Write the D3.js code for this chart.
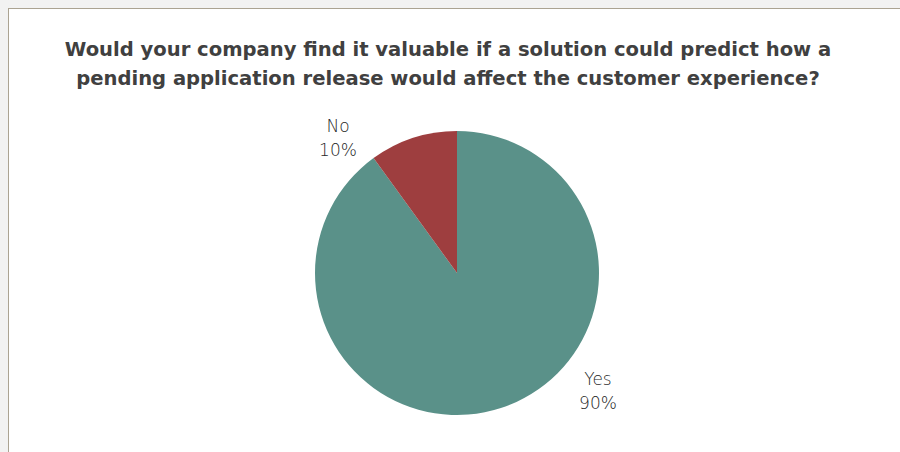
<!DOCTYPE html>
<html>
<head>
<meta charset="utf-8">
<script src="https://cdn.jsdelivr.net/npm/d3@7"></script>
<style>
  body { margin: 0; background: #f2f2f2; }
  svg { display: block; }
</style>
</head>
<body>
<script>
const categories = ["Yes", "No"];
const values = [90, 10];
const valueLabels = ["90%", "10%"];
const colors = ["#5a9189", "#9e3e3f"];
const titleLines = [
  "Would your company find it valuable if a solution could predict how a",
  "pending application release would affect the customer experience?"
];

const width = 900, height = 452;
const cx = 457, cy = 273, radius = 142;
const titleWidth = 767;

const svg = d3.select("body").append("svg")
  .attr("width", width)
  .attr("height", height);

// chart area frame
svg.append("rect")
  .attr("x", 8.5).attr("y", 8.5)
  .attr("width", width).attr("height", height)
  .attr("fill", "#ffffff")
  .attr("stroke", "#aba392")
  .attr("stroke-width", 1);

const title = svg.selectAll("text.title")
  .data(titleLines)
  .enter().append("text")
  .attr("class", "title")
  .attr("x", 448)
  .attr("y", (d, i) => 56 + i * 29)
  .attr("text-anchor", "middle")
  .style("font-family", "'DejaVu Sans', sans-serif")
  .style("font-weight", "bold")
  .style("font-size", "20px")
  .style("fill", "#404040")
  .text(d => d);

// fit the first line to the reference width
const w0 = title.node().getComputedTextLength();
title.style("font-size", (20 * titleWidth / w0) + "px");

const data = categories.map((c, i) => ({name: c, value: values[i], label: valueLabels[i], color: colors[i]}));

const pie = d3.pie().sort(null).value(d => d.value);
const arc = d3.arc().innerRadius(0).outerRadius(radius);
const arcs = pie(data);

const g = svg.append("g")
  .attr("transform", "translate(" + cx + "," + cy + ")");

g.selectAll("path")
  .data(arcs)
  .enter().append("path")
  .attr("d", arc)
  .attr("fill", d => d.data.color);

// outside labels
const labelPos = {Yes: [141, 112], No: [-119, -141]};

const lbl = g.selectAll("text.lbl")
  .data(arcs)
  .enter().append("text")
  .attr("class", "lbl")
  .attr("text-anchor", "middle")
  .style("font-family", "'DejaVu Sans', sans-serif")
  .style("font-weight", "200")
  .style("font-size", "17px")
  .style("fill", "#262626")
  .attr("transform", d => "translate(" + labelPos[d.data.name] + ")");

lbl.append("tspan").attr("x", 0).attr("dy", 0).text(d => d.data.name);
lbl.append("tspan").attr("x", 0).attr("dy", 24).text(d => d.data.label);
</script>
</body>
</html>
